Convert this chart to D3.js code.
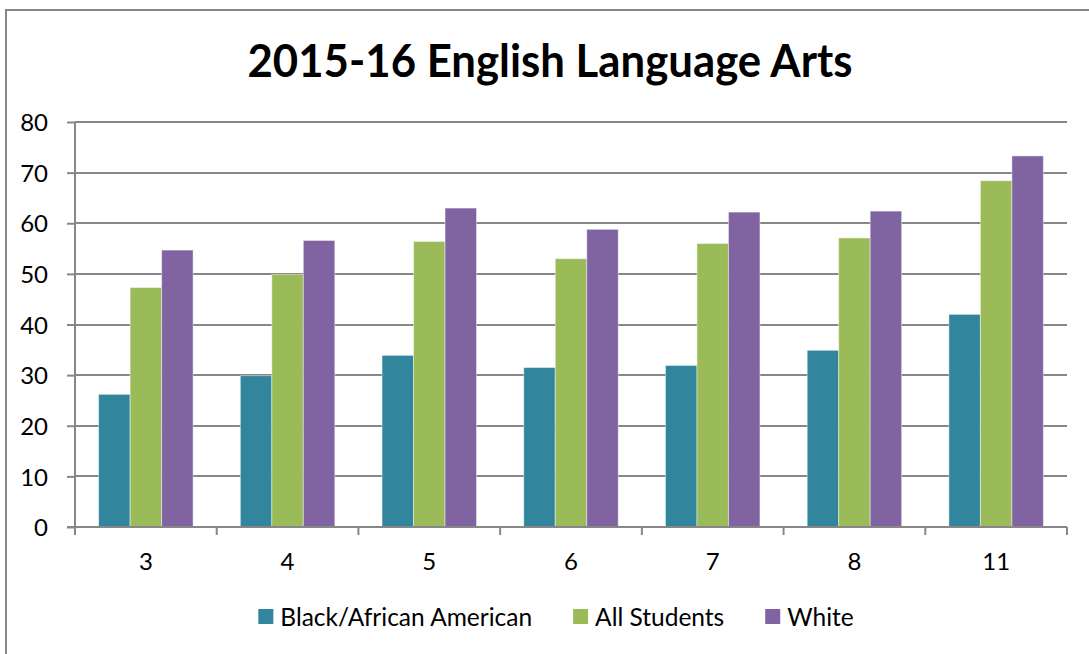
<!DOCTYPE html>
<html>
<head>
<meta charset="utf-8">
<script src="https://cdn.jsdelivr.net/npm/d3@7"></script>
<style>
  html, body { margin: 0; padding: 0; background: #fff; }
  svg { display: block; }
  text { font-family: Lato, "Open Sans", sans-serif; fill: #000; }
</style>
</head>
<body>
<svg id="chart" width="1089" height="654"></svg>
<script>
// Grade levels on the x axis
const grades = ["3", "4", "5", "6", "7", "8", "11"];
// Series names, in drawing order
const seriesNames = ["Black/African American", "All Students", "White"];
// Percent proficient per grade, one array per series
const blackAfricanAmerican = [26.2, 29.9, 33.9, 31.5, 31.9, 34.9, 42.0];
const allStudents = [47.3, 49.9, 56.4, 53.0, 56.0, 57.1, 68.4];
const white = [54.7, 56.6, 63.0, 58.8, 62.2, 62.4, 73.3];
const yTicks = [0, 10, 20, 30, 40, 50, 60, 70, 80];
const titleText = "2015-16 English Language Arts";

const seriesValues = [blackAfricanAmerican, allStudents, white];
const colors = ["#31859C", "#9BBB59", "#8064A2"];
const axisGray = "#878787";

const svg = d3.select("#chart");

// Outer chart frame
svg.append("rect")
  .attr("x", 6).attr("y", 10)
  .attr("width", 1200).attr("height", 800)
  .attr("fill", "none")
  .attr("stroke", axisGray)
  .attr("stroke-width", 2);

const plot = { left: 75, right: 1067, top: 122, bottom: 527 };

const y = d3.scaleLinear().domain([0, 80]).range([plot.bottom, plot.top]);
const x0 = d3.scaleBand().domain(grades).range([plot.left, plot.right]).padding(0);
const x1 = d3.scaleBand().domain(seriesNames).range([0, x0.bandwidth()])
  .paddingInner(0).paddingOuter(0.75);

// Horizontal gridlines
svg.append("g")
  .selectAll("line")
  .data(yTicks.filter(d => d > 0))
  .join("line")
  .attr("x1", plot.left).attr("x2", plot.right)
  .attr("y1", d => Math.round(y(d))).attr("y2", d => Math.round(y(d)))
  .attr("stroke", axisGray).attr("stroke-width", 2);

// Bars
const groups = svg.append("g")
  .selectAll("g")
  .data(grades)
  .join("g")
  .attr("transform", g => `translate(${x0(g)},0)`);

groups.selectAll("rect")
  .data((g, i) => seriesNames.map((s, k) => ({ s, k, v: seriesValues[k][i] })))
  .join("rect")
  .attr("x", d => x1(d.s))
  .attr("y", d => y(d.v))
  .attr("width", x1.bandwidth())
  .attr("height", d => y(0) - y(d.v))
  .attr("fill", d => colors[d.k])
  .attr("stroke", "rgba(255,255,255,0.45)")
  .attr("stroke-width", 1);

// Y axis
const yAxis = d3.axisLeft(y).tickValues(yTicks).tickSize(8).tickPadding(19);
const gy = svg.append("g")
  .attr("transform", `translate(${plot.left},0)`)
  .call(yAxis);
gy.attr("font-size", null).attr("font-family", null);
gy.select(".domain").attr("stroke", axisGray).attr("stroke-width", 2)
  .attr("d", `M0,${plot.top}V${plot.bottom}`);
gy.selectAll(".tick line").attr("stroke", axisGray).attr("stroke-width", 2);
gy.selectAll(".tick text")
  .style("font-family", "Lato, sans-serif")
  .style("font-size", "24px")
  .attr("dy", "0.36em")
  .attr("fill", "#000");

// X axis: ticks sit on the category boundaries
const gx = svg.append("g").attr("transform", `translate(0,${plot.bottom})`);
gx.append("line")
  .attr("x1", plot.left - 8).attr("x2", plot.right)
  .attr("stroke", axisGray).attr("stroke-width", 2);
const boundaries = grades.map(g => x0(g)).concat([plot.right]);
gx.selectAll("line.tick")
  .data(boundaries)
  .join("line")
  .attr("class", "tick")
  .attr("x1", d => d).attr("x2", d => d)
  .attr("y1", 0).attr("y2", 8)
  .attr("stroke", axisGray).attr("stroke-width", 2);
gx.selectAll("text")
  .data(grades)
  .join("text")
  .attr("x", g => x0(g) + x0.bandwidth() / 2)
  .attr("y", 34)
  .attr("dy", "0.36em")
  .attr("text-anchor", "middle")
  .style("font-size", "24px")
  .text(g => g);

// Title
svg.append("text")
  .attr("x", 550).attr("y", 77)
  .attr("text-anchor", "middle")
  .style("font-size", "45px")
  .style("font-weight", "bold")
  .attr("textLength", 605)
  .attr("lengthAdjust", "spacingAndGlyphs")
  .text(titleText);

// Legend, centered below the plot
const legend = svg.append("g");
const items = legend.selectAll("g")
  .data(seriesNames)
  .join("g");
items.append("rect")
  .attr("width", 15).attr("height", 15)
  .attr("y", -8)
  .attr("fill", (d, i) => colors[i]);
items.append("text")
  .attr("x", 22)
  .attr("dy", "0.36em")
  .style("font-size", "24.5px")
  .text(d => d);
let cursor = 0;
items.each(function () {
  const g = d3.select(this);
  g.attr("transform", `translate(${cursor},0)`);
  cursor += 22 + g.select("text").node().getComputedTextLength() + 41;
});
const legendWidth = cursor - 41;
legend.attr("transform", `translate(${556 - legendWidth / 2},617)`);
</script>
</body>
</html>
